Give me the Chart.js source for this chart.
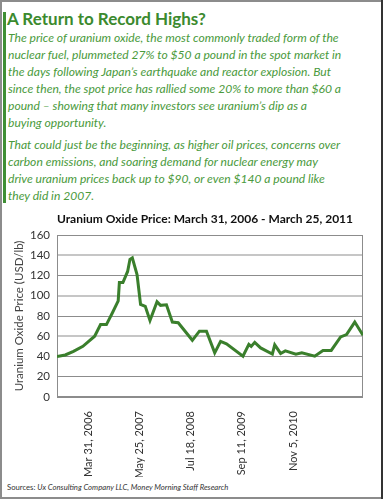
<!DOCTYPE html>
<html>
<head>
<meta charset="utf-8">
<script src="https://cdn.jsdelivr.net/npm/chart.js@4.4.0/dist/chart.umd.min.js"></script>
<style>
  html, body { margin: 0; padding: 0; background: #fff; overflow: hidden; }
  #card { position: relative; width: 386px; height: 501px; }
  .edge { position: absolute; }
  #head { position: absolute; left: 7px; top: 9px; color: #3b8a2e; font: bold 17px/20px Lato, sans-serif; white-space: nowrap; }
  .para { position: absolute; left: 8px; color: #4a9a3c; font: italic 12.1px/17px Lato, sans-serif; white-space: nowrap; }
  #chartBox { position: absolute; left: 0; top: 205px; width: 386px; height: 272px; }
  #src { position: absolute; left: 7px; top: 483px; font: 7.7px/9px Lato, sans-serif; color: #333; white-space: nowrap; }
</style>
</head>
<body>
<div id="card">
  <div class="edge" style="left:0;top:0;width:383px;height:2px;background:#8c8c8c"></div>
  <div class="edge" style="left:0;top:0;width:2px;height:499px;background:#8c8c8c"></div>
  <div class="edge" style="left:0;top:497px;width:383px;height:2px;background:#8c8c8c"></div>
  <div class="edge" style="left:381px;top:0;width:2px;height:499px;background:#333"></div>
  <div class="edge" style="left:3px;top:12px;width:3px;height:191px;background:#3f8f35"></div>

  <div id="head">A Return to Record Highs?</div>
  <div class="para" style="top:29px">The price of uranium oxide, the most commonly traded form of the<br>nuclear fuel, plummeted 27% to $50 a pound in the spot market in<br>the days following Japan’s earthquake and reactor explosion. But<br>since then, the spot price has rallied some 20% to more than $60 a<br>pound – showing that many investors see uranium’s dip as a<br>buying opportunity.</div>
  <div class="para" style="top:136px">That could just be the beginning, as higher oil prices, concerns over<br>carbon emissions, and soaring demand for nuclear energy may<br>drive uranium prices back up to $90, or even $140 a pound like<br>they did in 2007.</div>

  <div id="chartBox"><canvas id="chart"></canvas></div>
  <div id="src">Sources: <i>Ux Consulting Company LLC, Money Morning Staff Research</i></div>
</div>
<script>
// weeks since Mar 31, 2006
const weeks = [0, 7, 14, 22, 32, 37, 42, 47, 52, 53, 56, 60, 62, 64, 68, 71, 75, 79, 85, 88, 93,
  98, 103, 115, 121, 127, 134, 139, 144, 158, 163, 165, 168, 173, 183, 185, 190, 194, 203, 208,
  219, 226, 233, 241, 246, 253, 260];
const prices = [40, 41.5, 45, 50, 60, 71.5, 71.5, 83, 95, 113, 113, 124, 136, 137.5, 121, 91.5, 89.5, 75.5, 94, 90.5, 91,
  74, 73.3, 56, 65, 65, 43.6, 55, 52.5, 40.3, 52, 50, 54, 48.5, 42.5, 51.5, 43, 45.5, 42.3, 43.6,
  40.3, 46, 46, 59.4, 61.7, 74, 61];

const tickWeeks = [26.5, 70, 113.5, 157, 200.5];
const tickLabels = ['Mar 31, 2006', 'May 25, 2007', 'Jul 18, 2008', 'Sep 11, 2009', 'Nov 5, 2010'];
const lightLines = [140, 100, 60];

const plotFrame = {
  id: 'plotFrame',
  beforeDatasetsDraw (chart) {
    const { ctx, chartArea: a } = chart;
    ctx.save();
    ctx.strokeStyle = '#8c8c8c';
    ctx.lineWidth = 1;
    ctx.strokeRect(Math.round(a.left) + 0.5, Math.round(a.top) + 0.5,
      Math.round(a.width) - 1, Math.round(a.height) - 1);
    ctx.restore();
  }
};

new Chart('chart', {
  type: 'line',
  data: {
    datasets: [{
      data: weeks.map((w, i) => ({ x: w, y: prices[i] })),
      borderColor: '#3a7f2c',
      borderWidth: 3,
      pointRadius: 0,
      tension: 0,
      borderJoinStyle: 'miter'
    }]
  },
  options: {
    responsive: true,
    maintainAspectRatio: false,
    animation: false,
    layout: { padding: { left: 8, right: 23, top: 0, bottom: 0 } },
    plugins: {
      legend: { display: false },
      tooltip: { enabled: false },
      title: {
        display: true,
        fullSize: false,
        align: 'start',
        text: 'Uranium Oxide Price: March 31, 2006 - March 25, 2011',
        color: '#111',
        font: { family: 'Lato', size: 12, weight: 'bold' },
        padding: { top: 6.8, bottom: 8.8 }
      }
    },
    scales: {
      x: {
        type: 'linear',
        min: 0,
        max: 260,
        afterBuildTicks: s => { s.ticks = tickWeeks.map(v => ({ value: v })); },
        afterFit: s => { s.height = 80; },
        grid: { display: false },
        border: { display: false },
        ticks: {
          autoSkip: false,
          maxRotation: 90,
          minRotation: 90,
          padding: 6,
          color: '#333',
          font: { family: 'Lato', size: 11 },
          callback: (v, i) => tickLabels[i]
        }
      },
      y: {
        min: 0,
        max: 160,
        afterFit: s => { s.width = 49; },
        border: { display: false },
        grid: {
          drawTicks: false,
          color: c => lightLines.includes(c.tick.value) ? '#c6c6c6' : '#8c8c8c',
          lineWidth: c => lightLines.includes(c.tick.value) ? 2 : 1
        },
        ticks: {
          stepSize: 20,
          padding: 7,
          color: '#333',
          font: { family: 'Lato', size: 11.5 }
        },
        title: {
          display: true,
          text: 'Uranium Oxide Price (USD/lb)',
          color: '#444',
          font: { family: 'Lato', size: 11.5 }
        }
      }
    }
  },
  plugins: [plotFrame]
});
</script>
</body>
</html>
